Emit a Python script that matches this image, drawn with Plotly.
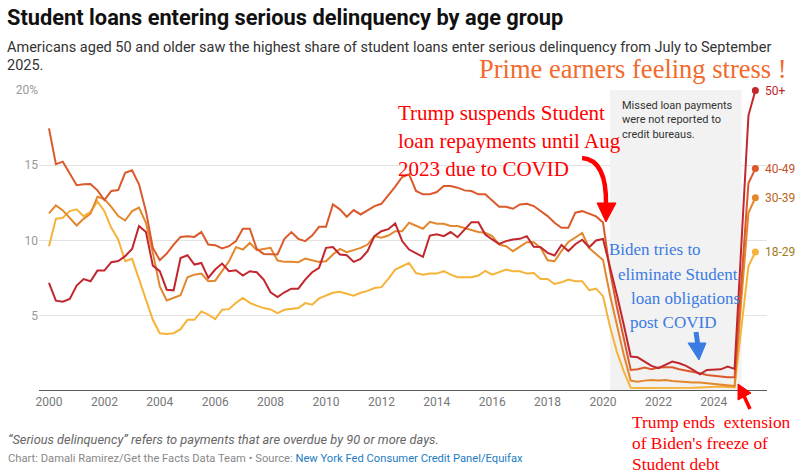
import plotly.graph_objects as go

# quarterly share of student loan balances transitioning into serious delinquency (%)
start_year = 2000
age_groups = ["18-29", "30-39", "40-49", "50+"]

s18 = [9.62, 11.44, 11.51, 11.95, 12.07, 11.62, 11.91, 12.6, 11.95, 10.84, 10.07, 8.62, 8.78, 7.4, 6.07, 4.73,
       3.84, 3.78, 3.84, 4.11, 4.73, 4.73, 5.29, 5.07, 4.78, 5.4, 5.44, 5.86, 6.18, 5.86, 5.67, 5.51,
       5.42, 5.18, 5.4, 5.44, 5.51, 5.84, 5.73, 6.15, 6.33, 6.53, 6.6, 6.47, 6.33, 6.53, 6.65, 6.84,
       6.9, 7.45, 8.07, 8.29, 8.51, 7.84, 7.73, 7.8, 7.8, 7.96, 7.73, 7.56, 7.56, 7.56, 7.67, 7.98,
       7.73, 7.89, 8.07, 7.96, 7.96, 7.8, 7.84, 7.44, 7.44, 7.11, 7.22, 7.4, 7.3, 7.3, 6.7, 6.8,
       6.3, 4.3, 2.6, 1.3, 0.22, 0.2, 0.2, 0.2, 0.2, 0.18, 0.18, 0.18, 0.2, 0.22, 0.24, 0.27,
       0.3, 0.3, 0.27, 0.24, 4.3, 8.29, 9.24]
s30 = [11.8, 12.33, 12.0, 11.51, 11.0, 11.44, 11.78, 12.91, 12.75, 12.24, 11.62, 11.33, 11.95, 12.18, 11.18, 9.18,
       6.95, 6.02, 6.18, 6.36, 7.56, 7.73, 7.8, 7.29, 7.33, 7.96, 8.62, 9.56, 9.4, 9.84, 9.36, 9.44,
       9.51, 8.67, 8.58, 8.58, 8.56, 8.8, 8.69, 8.58, 8.62, 9.07, 9.44, 9.22, 9.36, 9.51, 9.73, 10.29,
       10.18, 10.33, 10.62, 10.62, 11.18, 11.0, 10.78, 11.24, 11.11, 11.11, 10.96, 10.96, 10.84, 10.69, 10.56, 10.51,
       10.29, 9.73, 9.62, 9.29, 9.62, 9.89, 9.89, 9.51, 8.69, 8.62, 9.3, 9.9, 10.2, 10.5, 9.5, 9.1,
       8.7, 6.4, 4.3, 2.4, 0.69, 0.62, 0.69, 0.73, 0.69, 0.73, 0.67, 0.62, 0.6, 0.56, 0.56, 0.51,
       0.44, 0.4, 0.36, 0.33, 6.2, 11.84, 12.84]
s40 = [17.45, 15.07, 15.24, 14.5, 13.67, 13.73, 13.75, 13.33, 12.69, 13.29, 13.35, 14.5, 14.67, 13.73, 11.95, 9.51,
       8.69, 9.13, 9.73, 10.24, 10.29, 10.24, 10.56, 9.73, 9.69, 9.47, 9.62, 9.96, 10.78, 10.78, 9.44, 9.11,
       9.11, 9.07, 10.11, 10.56, 10.11, 9.96, 10.33, 10.91, 10.91, 12.4, 12.07, 11.58, 12.02, 11.73, 12.0, 12.29,
       12.44, 13.0, 13.58, 14.22, 14.4, 13.29, 13.07, 13.07, 13.22, 13.62, 13.62, 13.51, 13.33, 13.29, 13.07, 13.07,
       12.62, 12.24, 12.24, 12.11, 12.4, 12.44, 12.29, 11.96, 11.62, 11.18, 10.85, 10.85, 11.85, 11.95, 11.75, 11.6,
       11.2, 8.0, 5.6, 3.4, 1.4, 1.44, 1.56, 1.44, 1.56, 1.58, 1.58, 1.44, 1.36, 1.24, 1.18, 1.07,
       1.0, 0.96, 0.91, 0.91, 7.3, 13.8, 14.78]
s50 = [7.18, 6.0, 5.93, 6.11, 7.0, 7.44, 7.29, 8.0, 8.0, 8.56, 8.64, 8.96, 9.44, 10.96, 10.56, 8.33,
       7.96, 6.73, 6.69, 8.84, 9.02, 8.4, 8.51, 7.51, 8.07, 8.47, 7.96, 8.02, 7.67, 7.96, 7.89, 7.4,
       6.56, 6.24, 6.56, 6.8, 6.8, 7.4, 7.89, 8.18, 9.51, 9.56, 9.07, 9.02, 8.58, 8.78, 9.29, 10.29,
       10.62, 10.75, 11.13, 9.96, 9.4, 9.18, 8.91, 10.33, 10.42, 10.29, 10.56, 10.22, 10.73, 11.22, 11.22, 10.4,
       10.07, 9.78, 9.96, 10.07, 10.11, 10.29, 9.58, 9.56, 9.18, 9.0, 9.7, 9.3, 9.75, 10.05, 9.55, 10.0,
       10.1, 8.3, 6.4, 4.4, 2.29, 2.24, 1.96, 1.67, 1.51, 1.73, 1.96, 1.84, 1.67, 1.4, 1.11, 1.4,
       1.4, 1.44, 1.62, 1.47, 9.9, 18.3, 19.96]

quarters = [start_year + i / 4 for i in range(len(s50))]
year_ticks = list(range(2000, 2025, 2))
y_ticks = [5, 10, 15, 20]
y_tick_text = ["5", "10", "15", "20%"]
no_report_period = (2020.25, 2025.0)

line_colors = {"18-29": "#f6b33a", "30-39": "#e3872d", "40-49": "#db5a2c", "50+": "#c1272d"}
label_colors = {"18-29": "#a27b17", "30-39": "#b8661c", "40-49": "#c6502a", "50+": "#c1272d"}
series = {"18-29": s18, "30-39": s30, "40-49": s40, "50+": s50}

# plot box in pixels, used to place the hand-drawn notes
L, R, T, B = 39, 767, 90, 391


def px(x):
    return (x - L) / (R - L)


def py(y):
    return (B - y) / (B - T)


fig = go.Figure()

for grp in age_groups:
    vals = series[grp]
    fig.add_trace(go.Scatter(x=quarters, y=vals, mode="lines", name=grp,
                             line=dict(color=line_colors[grp], width=2), cliponaxis=False))
    fig.add_trace(go.Scatter(x=[quarters[-1]], y=[vals[-1]], mode="markers",
                             marker=dict(color=line_colors[grp], size=7), cliponaxis=False))
    fig.add_annotation(x=quarters[-1], y=vals[-1], text=grp, showarrow=False, xanchor="left",
                       xshift=8, font=dict(family="Roboto", size=12, color=label_colors[grp]))

# period when missed payments were not reported
fig.add_shape(type="rect", xref="x", yref="y", x0=no_report_period[0], x1=no_report_period[1],
              y0=0, y1=20, fillcolor="#f2f2f2", line_width=0, layer="between")
fig.add_shape(type="line", xref="paper", yref="y", x0=0, x1=1, y0=0, y1=0,
              line=dict(color="#222", width=1.5))
fig.add_annotation(xref="paper", yref="paper", x=px(620), y=py(97), xanchor="left", yanchor="top",
                   align="left", showarrow=False,
                   text="Missed loan payments<br>were not reported to<br>credit bureaus.",
                   font=dict(family="Roboto", size=11, color="#333"))

sans = "Roboto, Arial, sans-serif"
serif = "Liberation Serif, Times New Roman, serif"


def note(x, y, text, size, color, family=serif, **kw):
    fig.add_annotation(xref="paper", yref="paper", x=px(x), y=py(y), text=text, showarrow=False,
                       xanchor="left", yanchor="middle", align="left",
                       font=dict(family=family, size=size, color=color), **kw)


note(5, 17, "<b>Student loans entering serious delinquency by age group</b>", 21.8, "#111", sans)
note(5, 47, "Americans aged 50 and older saw the highest share of student loans enter serious delinquency from July to September",
     14.5, "#333", sans)
note(5, 65, "2025.", 14.5, "#333", sans)
note(6, 439, "<i>“Serious delinquency” refers to payments that are overdue by 90 or more days.</i>", 12.8, "#666", sans)
note(6, 458, "Chart: Damali Ramirez/Get the Facts Data Team • Source: "
             "<span style='color:#1c7cc2'>New York Fed Consumer Credit Panel/Equifax</span>", 11.2, "#888", sans)

note(477, 69, "Prime earners feeling stress !", 26.5, "#f26a2c")
red = "#ff0000"
note(396, 113, "Trump suspends Student", 21, red)
note(396, 141, "loan repayments until Aug", 21, red)
note(396, 169, "2023 due to COVID", 21, red)
blue = "#3b7be3"
note(607, 250, "Biden tries to", 17, blue)
note(616, 274, "eliminate Student", 17, blue)
note(629, 298, "loan obligations", 17, blue)
note(628, 322, "post COVID", 17, blue)
note(630, 422, "Trump ends  extension", 17.4, red)
note(630, 443, "of Biden's freeze of", 17.4, red)
note(630, 464, "Student debt", 17.4, red)


def path(points, close=True):
    s = " ".join(("M" if i == 0 else "L") + f" {px(a):.4f},{py(b):.4f}" for i, (a, b) in enumerate(points))
    return s + (" Z" if close else "")


# red curved arrow to the COVID pause
fig.add_shape(type="path", xref="paper", yref="paper",
              path=f"M {px(582):.4f},{py(158):.4f} Q {px(607):.4f},{py(160):.4f} {px(606):.4f},{py(205):.4f}",
              line=dict(color=red, width=4.5))
fig.add_shape(type="path", xref="paper", yref="paper", path=path([(597, 203), (616, 203), (606, 222)]),
              fillcolor=red, line=dict(color=red, width=1))
# blue arrow
fig.add_shape(type="line", xref="paper", yref="paper", x0=px(696), y0=py(332), x1=px(698), y1=py(346),
              line=dict(color=blue, width=5))
fig.add_shape(type="path", xref="paper", yref="paper", path=path([(688, 343), (706, 343), (699, 360)]),
              fillcolor=blue, line=dict(color=blue, width=1))
# red arrow at the end of the pause
fig.add_shape(type="line", xref="paper", yref="paper", x0=px(744), y0=py(396), x1=px(750), y1=py(409),
              line=dict(color=red, width=3.5))
fig.add_shape(type="path", xref="paper", yref="paper", path=path([(738, 384), (751, 393), (738, 400)]),
              fillcolor=red, line=dict(color=red, width=1))

fig.update_layout(
    width=802, height=475, showlegend=False,
    margin=dict(l=L, r=802 - R, t=T, b=475 - B),
    paper_bgcolor="white", plot_bgcolor="white",
    font=dict(family=sans),
    xaxis=dict(range=[1999.64, 2025.92], tickvals=year_ticks, showgrid=False, zeroline=False,
               ticks="", ticklabelstandoff=2, tickfont=dict(size=12, color="#777"), fixedrange=True),
    yaxis=dict(range=[0, 20], tickvals=y_ticks, ticktext=y_tick_text, showgrid=True, gridcolor="#e3e3e3",
               zeroline=False, ticks="", tickfont=dict(size=12, color="#999"), fixedrange=True),
)

# the page has a default 8px body margin; drop it so the figure sits at the window corner
fig.write_html("out.html", config={"displayModeBar": False},
               post_script="document.body.style.margin='0';")
